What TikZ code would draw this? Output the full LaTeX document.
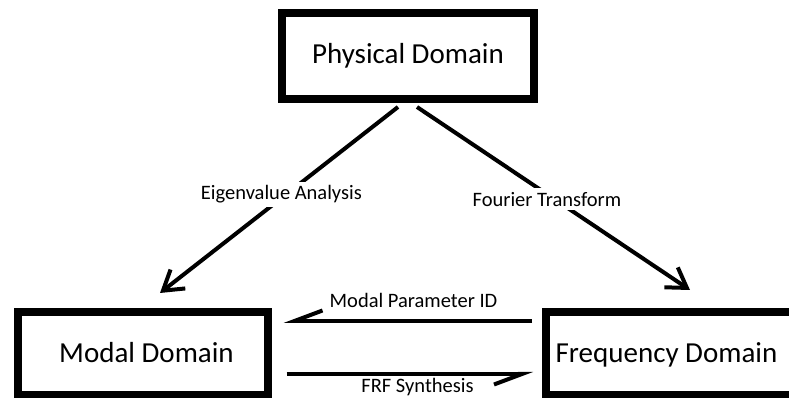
\documentclass[tikz,border=0pt]{standalone}
\usepackage{fontspec}
\setmainfont{Carlito}
\usetikzlibrary{arrows.meta}
\begin{document}
\begin{tikzpicture}[x=1pt,y=1pt,
  box/.style={draw=black, line width=8pt, fill=none, inner sep=0pt},
  bigtxt/.style={font=\fontsize{29}{33}\selectfont, text=black, inner sep=0pt},
  lbl/.style={font=\fontsize{20.5}{23}\selectfont, text=black, inner xsep=4pt, inner ysep=3.5pt},
  diag/.style={line width=4pt, -{Straight Barb[length=19pt,width=24pt]}},
  harp/.style={line width=4pt, -{Straight Barb[length=28pt,width=21pt,harpoon,swap]}}]
\clip (0,0) rectangle (789,398);
\fill[white] (0,0) rectangle (789,398);
% boxes
\node[box, minimum width=252pt, minimum height=86pt, bigtxt] (phys) at (408,342) {Physical Domain};
\node[box, minimum width=250pt, minimum height=83pt] (modal) at (142.5,44.5) {};
\node[box, minimum width=270pt, minimum height=83pt] (freq) at (681,44.5) {};
\node[bigtxt, anchor=base] (modalt) at (146.5,35) {Modal Domain};
\node[bigtxt, anchor=base] (freqt) at (666.5,35) {Frequency Domain};
% diagonal arrows
\draw[diag] ([xshift=-10pt,yshift=-4pt]phys.south) -- ([xshift=17.5pt,yshift=15pt]modal.north)
  node[lbl, fill=white, pos=0.49, yshift=4pt] (eig) {Eigenvalue Analysis};
\draw[diag] ([xshift=9pt,yshift=-4pt]phys.south) -- ([xshift=9pt,yshift=18pt]freq.north)
  node[lbl, fill=white, pos=0.476, yshift=-5pt] (four) {Fourier Transform};
% horizontal arrows
\draw[harp] ([xshift=-10pt,yshift=-13pt]freq.north west) -- ([xshift=12pt,yshift=-13pt]modal.north east);
\draw[harp] ([xshift=15pt,yshift=-66pt]modal.north east) -- ([xshift=-9pt,yshift=-66pt]freq.north west);
\node[lbl, anchor=base] (mpid) at (413.5,90) {Modal Parameter ID};
\node[lbl, anchor=base] (frf) at (417.5,5) {FRF Synthesis};
\end{tikzpicture}
\end{document}
